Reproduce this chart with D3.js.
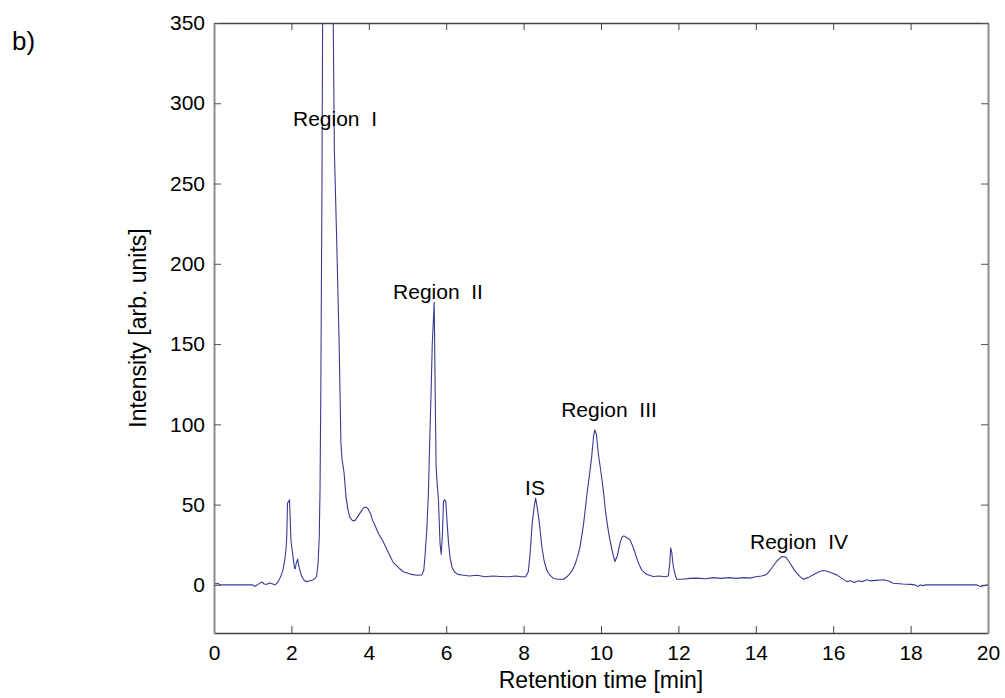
<!DOCTYPE html>
<html>
<head>
<meta charset="utf-8">
<script src="https://cdn.jsdelivr.net/npm/d3@7"></script>
<style>
  body { margin: 0; background: #fff; }
  svg text { font-family: Arial, "Liberation Sans", sans-serif; fill: #000; }
</style>
</head>
<body>
<svg id="chart" width="1005" height="698"></svg>
<script>
// retention time [min] and intensity
var times = [0.00,0.03,0.06,0.10,0.15,0.50,1.00,1.05,1.12,1.23,1.30,1.36,1.44,1.52,1.58,1.66,1.72,1.78,1.83,1.86,1.88,1.90,1.93,1.95,1.97,1.99,
  2.03,2.06,2.08,2.10,2.12,2.16,2.19,2.22,2.27,2.33,2.40,2.48,2.55,2.61,2.65,2.69,2.72,2.74,2.76,2.79,2.81,2.90,3.00,3.06,3.08,3.11,3.17,3.23,3.26,3.28,
  3.31,3.36,3.41,3.46,3.51,3.58,3.64,3.70,3.78,3.85,3.90,3.96,3.99,4.05,4.10,4.16,4.25,4.37,4.45,4.55,4.63,4.72,4.80,4.90,4.98,5.10,5.25,5.37,5.42,5.45,
  5.50,5.54,5.58,5.61,5.64,5.69,5.72,5.74,5.77,5.80,5.84,5.87,5.90,5.93,5.96,5.99,6.02,6.06,6.10,6.15,6.22,6.30,6.45,6.60,6.80,7.00,7.20,7.40,7.60,7.80,
  7.95,8.05,8.12,8.17,8.22,8.27,8.31,8.34,8.40,8.47,8.53,8.60,8.68,8.77,8.90,9.03,9.12,9.24,9.32,9.40,9.46,9.55,9.63,9.70,9.76,9.81,9.84,9.88,9.93,10.00,
  10.06,10.12,10.18,10.23,10.30,10.36,10.42,10.49,10.55,10.59,10.66,10.75,10.82,10.88,10.96,11.05,11.15,11.25,11.35,11.50,11.65,11.74,11.78,11.80,11.83,
  11.85,11.87,11.92,11.96,12.10,12.30,12.47,12.70,12.90,13.10,13.30,13.50,13.70,13.85,14.00,14.15,14.28,14.40,14.55,14.67,14.75,14.80,14.90,15.00,15.06,
  15.15,15.23,15.35,15.50,15.62,15.74,15.85,16.00,16.09,16.20,16.35,16.45,16.55,16.65,16.75,16.86,16.95,17.10,17.30,17.45,17.55,17.80,18.00,18.10,18.20,
  18.25,18.30,18.40,19.00,19.70,19.80,19.90,20.00];
var intensity = [0,1,0.5,1,0,0,0,-1,0,1.8,0.5,0.3,1.2,0.5,0,2,5,9,15.5,22,30,51,52,53,40,27,
  20,14,10.5,10,13,16,12,9,5,2.7,2,2.5,3,4,5.2,13.5,30,60,120,250,370,600,650,420,355,271,215,154,115,88,
  78,70,55,47,42,40,40,42,45,47.5,48.5,48,47,44,40,37,32,27,23,18,14,12,10,8,7.5,6.5,6,6.2,9,17,
  35,57,95,120,150,176,110,73,62,53,26,19,30,52,53,52,40,26,17,11,8,6.5,6,5.5,6,5,5.5,5.2,5,5.5,
  5,5,8,20,38,48,54,50,40,24,15,9,6,4,3.5,3.5,5,8.3,12,18,24,38,55,68,80,93,96.5,94,82,70,
  59,45,35,28,20,14.5,18,26,30,30.5,29.5,28,24,20,14,9.3,7,6,5.2,5.5,5,5.5,14,23,20,
  15,11.4,6,3.5,3.5,4,4.2,3.8,4.5,4,4.5,4,4.5,4.2,5,5.5,6.5,10,15,17.6,17.5,16.6,13,9,7.3,
  5,3.5,4.5,6.5,8,8.9,8.5,7,6.2,4.5,2,2.5,1.5,2.5,2,3.2,2.5,2.8,3.2,2.2,1,0.5,0.3,0,-1,
  0,-0.5,0,0,0,-1,-0.5,0];

var xTicks = [0,2,4,6,8,10,12,14,16,18,20];
var yTicks = [0,50,100,150,200,250,300,350];

var regionNames = ["Region  I","Region  II","IS","Region  III","Region  IV"];

var svg = d3.select("#chart");
svg.append("rect").attr("width", 1005).attr("height", 698).attr("fill", "#fff");

var plotLeft = 214, plotRight = 988, plotTop = 23, plotBottom = 633;

var x = d3.scaleLinear().domain([0, 20]).range([plotLeft, plotRight]);
var y = d3.scaleLinear().domain([-30, 350]).range([plotBottom, plotTop]);

svg.append("clipPath").attr("id", "plotclip")
  .append("rect").attr("x", plotLeft).attr("y", plotTop)
  .attr("width", plotRight - plotLeft).attr("height", plotBottom - plotTop);

var pts = times.map(function(t, i) { return [t, intensity[i]]; });

var line = d3.line()
  .x(function(d) { return x(d[0]); })
  .y(function(d) { return y(d[1]); });

svg.append("path")
  .datum(pts)
  .attr("clip-path", "url(#plotclip)")
  .attr("d", line)
  .attr("fill", "none")
  .attr("stroke", "#3a3a96")
  .attr("stroke-width", 1.1)
  .attr("stroke-linejoin", "round");

// axes box, ticks pointing inward
var gx = svg.append("g").attr("transform", "translate(0," + plotBottom + ")")
  .call(d3.axisBottom(x).tickValues(xTicks).tickSizeInner(-7).tickSizeOuter(0).tickPadding(12).tickFormat(d3.format("d")));
var gxt = svg.append("g").attr("transform", "translate(0," + plotTop + ")")
  .call(d3.axisTop(x).tickValues(xTicks).tickSizeInner(-7).tickSizeOuter(0).tickFormat(""));
var gy = svg.append("g").attr("transform", "translate(" + plotLeft + ",0)")
  .call(d3.axisLeft(y).tickValues(yTicks).tickSizeInner(-7).tickSizeOuter(0).tickPadding(9).tickFormat(d3.format("d")));
var gyr = svg.append("g").attr("transform", "translate(" + plotRight + ",0)")
  .call(d3.axisRight(y).tickValues(yTicks).tickSizeInner(-7).tickSizeOuter(0).tickFormat(""));

[gx, gxt].forEach(function(g) {
  g.select(".domain").attr("stroke", "#444").attr("stroke-width", 1.3);
  g.selectAll(".tick line").attr("stroke", "#444");
});
[gy, gyr].forEach(function(g) {
  g.select(".domain").attr("stroke", "#8c8c8c").attr("stroke-width", 2);
  g.selectAll(".tick line").attr("stroke", "#555");
});
svg.selectAll(".tick text").style("font-size", "21px").attr("fill", "#000");

svg.append("text")
  .attr("x", (plotLeft + plotRight) / 2).attr("y", 688)
  .attr("text-anchor", "middle").style("font-size", "23px")
  .text("Retention time [min]");

svg.append("text")
  .attr("transform", "translate(146," + (plotTop + plotBottom) / 2 + ") rotate(-90)")
  .attr("text-anchor", "middle").style("font-size", "23px")
  .text("Intensity [arb. units]");

svg.append("text")
  .attr("x", 12).attr("y", 50).style("font-size", "26px")
  .text("b)");

// region labels
var labelX = [335, 438, 535, 609, 799];
var labelY = [126, 299, 495, 417, 549];
svg.selectAll(".region")
  .data(regionNames)
  .enter().append("text")
    .attr("class", "region")
    .attr("x", function(d, i) { return labelX[i]; })
    .attr("y", function(d, i) { return labelY[i]; })
    .attr("text-anchor", "middle")
    .style("font-size", "21px")
    .style("white-space", "pre")
    .text(function(d) { return d; });
</script>
</body>
</html>
